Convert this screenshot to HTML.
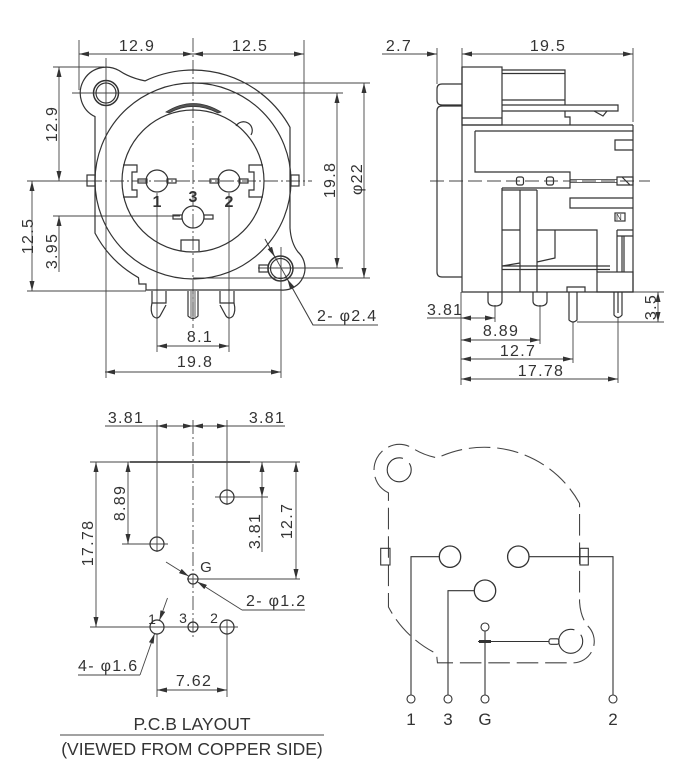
<!DOCTYPE html>
<html><head><meta charset="utf-8">
<style>
html,body{margin:0;padding:0;background:#fff;}
svg{display:block;}
text{font-family:"Liberation Sans",Arial,sans-serif;fill:#333;}
.d{font-size:16px;letter-spacing:1.3px;}
.b{font-size:16px;font-weight:bold;}
</style></head><body>
<svg width="689" height="778" viewBox="0 0 689 778" xmlns="http://www.w3.org/2000/svg">
<defs>
<marker id="a" viewBox="0 0 10 5" refX="10" refY="2.5" markerWidth="10" markerHeight="5" markerUnits="userSpaceOnUse" orient="auto-start-reverse"><path d="M0,0 L10,2.5 L0,5 z" fill="#333"/></marker>
</defs>

<!-- ================= FRONT VIEW ================= -->
<g stroke="#444" stroke-width="0.9" fill="none">
  <path d="M79,40 V90 M304,40 V186 M106,58 V378 M281,247 V378"/>
  <path d="M53,67 H104 M72,93 H343 M193,83 H370 M53,216 H180 M27,291 H146 M258,268 H343 M193,278 H370 M27,181 H88"/>
  <path d="M157,193 V352 M229,193 V352"/>
  <path d="M193,38 V328" stroke-dasharray="14 3 2 3"/>
  <path d="M88,181 H312" stroke-dasharray="14 3 2 3"/>
  <path d="M79,54 H193" marker-start="url(#a)" marker-end="url(#a)"/>
  <path d="M193,54 H304" marker-start="url(#a)" marker-end="url(#a)"/>
  <path d="M59,67 V181" marker-start="url(#a)" marker-end="url(#a)"/>
  <path d="M59,272 V216" marker-end="url(#a)"/>
  <path d="M32,181 V291" marker-start="url(#a)" marker-end="url(#a)"/>
  <path d="M337,93 V268" marker-start="url(#a)" marker-end="url(#a)"/>
  <path d="M364,83 V278" marker-start="url(#a)" marker-end="url(#a)"/>
  <path d="M157,346 H229" marker-start="url(#a)" marker-end="url(#a)"/>
  <path d="M105,372 H281" marker-start="url(#a)" marker-end="url(#a)"/>
  <path d="M265,239 L313,325 H378"/>
  <path d="M265,239 L274.6,256.7" marker-end="url(#a)"/>
  <path d="M313,325 L287.4,279.3" marker-end="url(#a)"/>
</g>
<g stroke="#333" stroke-width="1.2" fill="none">
  <path d="M95,116.6 A26,26 0 1 1 119,70.5 Q130,78 145,80.9 A111,111 0 0 1 290,127.3 L290,228 Q291,243 298,252 A22,22 0 0 1 281,290 L146,290 L146,284 L139,284 L138.5,277.7 A111,111 0 0 1 95,233.1 Z"/>
  <circle cx="106" cy="93" r="12.5" stroke-width="1.5"/>
  <circle cx="106" cy="93" r="10"/>
  <circle cx="280.5" cy="268.5" r="12.5" stroke-width="1.5"/>
  <circle cx="280.5" cy="268.5" r="10"/>
  <rect x="259" y="265" width="9" height="7"/>
  <circle cx="193" cy="181" r="98"/>
  <circle cx="193" cy="181" r="71"/>
  <path d="M123,165 H137 V172 H132 V190 H137 V197 H123"/>
  <path d="M263,165 H249 V172 H254 V190 H249 V197 H263"/>
  <path d="M236,126 A8,8 0 0 1 251,135"/>
  <path d="M181,251 V240 H199 V251"/>
  <rect x="87" y="175" width="8" height="11"/>
  <rect x="291" y="175" width="8" height="11"/>
  <circle cx="157" cy="181" r="11"/>
  <circle cx="229" cy="181" r="11"/>
  <circle cx="193" cy="217" r="11"/>
  <rect x="138" y="179" width="9" height="4"/>
  <rect x="167" y="179" width="9" height="4"/>
  <rect x="210" y="179" width="9" height="4"/>
  <rect x="239" y="179" width="9" height="4"/>
  <rect x="173" y="215" width="9" height="4"/>
  <rect x="204" y="215" width="9" height="4"/>
  <path d="M152,291 V303 H166 V291"/>
  <path d="M152,303 Q150,311 153,316 Q157,320 160,316 L166,305"/>
  <path d="M234,291 V303 H220 V291"/>
  <path d="M234,303 Q236,311 233,316 Q229,320 226,316 L220,305"/>
  <path d="M188,291 V316 Q193,321 198,316 V291"/>
  <path d="M191,291 V317 M193,291 V318 M195,291 V317" stroke-width="0.8"/>
</g>
<path d="M166,112 Q193,95 221,112 L218,113 Q193,100 169,113 Z" fill="#555" stroke="#333" stroke-width="0.8"/>
<text class="b" x="157" y="207" text-anchor="middle">1</text>
<text class="b" x="229" y="207" text-anchor="middle">2</text>
<text class="b" x="193" y="202" text-anchor="middle">3</text>
<text class="d" x="137" y="51" text-anchor="middle">12.9</text>
<text class="d" x="250" y="51" text-anchor="middle">12.5</text>
<text class="d" transform="translate(57,124) rotate(-90)" text-anchor="middle">12.9</text>
<text class="d" transform="translate(33,236) rotate(-90)" text-anchor="middle">12.5</text>
<text class="d" transform="translate(57,251) rotate(-90)" text-anchor="middle">3.95</text>
<text class="d" transform="translate(335,180) rotate(-90)" text-anchor="middle">19.8</text>
<text class="d" transform="translate(362,179) rotate(-90)" text-anchor="middle">φ22</text>
<text class="d" x="200" y="342" text-anchor="middle">8.1</text>
<text class="d" x="195" y="367" text-anchor="middle">19.8</text>
<text class="d" x="317" y="321">2- φ2.4</text>

<!-- ================= SIDE VIEW ================= -->
<g stroke="#444" stroke-width="0.9" fill="none">
  <path d="M437,48 V84 M462,48 V67 M633,48 V122"/>
  <path d="M382,54 H437" marker-end="url(#a)"/>
  <path d="M462,54 H633" marker-start="url(#a)" marker-end="url(#a)"/>
  <path d="M430,181 H650" stroke-dasharray="14 5"/>
  <path d="M461,292 V385 M495,305 V322 M540,305 V344 M573,322 V363 M618,318 V383"/>
  <path d="M633,292 H664 M577,322 H664"/>
  <path d="M427,318 H461"/>
  <path d="M461,318 H495" marker-start="url(#a)" marker-end="url(#a)"/>
  <path d="M461,340 H540" marker-start="url(#a)" marker-end="url(#a)"/>
  <path d="M461,359 H573" marker-start="url(#a)" marker-end="url(#a)"/>
  <path d="M461,379 H618" marker-start="url(#a)" marker-end="url(#a)"/>
  <path d="M658,292 V322" marker-start="url(#a)" marker-end="url(#a)"/>
</g>
<g stroke="#333" stroke-width="1.2" fill="none">
  <path d="M462,84 H442 Q437,84 437,89 V100 Q437,105 442,105 H462"/>
  <path d="M462,106 H442 Q437,106 437,111 V272 Q437,277 442,277 H462"/>
  <path d="M462,67 V292 H633 V125"/>
  <rect x="462" y="67" width="40" height="58"/>
  <path d="M462,118 H502"/>
  <path d="M502,70 H565 V105 M502,73.5 H565 M502,100 H565"/>
  <path d="M502,105 H618 V111 H502"/>
  <path d="M594,111 L603,116 L607,111"/>
  <path d="M565,111 V117 H570 V125"/>
  <path d="M462,125 H633"/>
  <path d="M475,131 H633"/>
  <path d="M475,131 V172 H570 V188 H502"/>
  <path d="M633,140 H615 V150 H633"/>
  <rect x="516.5" y="177" width="7" height="8" rx="2"/>
  <rect x="546.5" y="177" width="7" height="8" rx="2"/>
  <path d="M570,179.5 H617 M570,182.5 H617" stroke-width="0.8"/>
  <path d="M617,177 H633 V185 H617 Z M622,177 L630,185"/>
  <path d="M633,198 H570 V208 H633"/>
  <rect x="615" y="213" width="10" height="8"/>
  <path d="M502,188 V292 M520,190 V292 M537,190 V292 M502,190 H537"/>
  <path d="M502,230 H520 M537,230 H597 V272 M555,230 V258 L537,262"/>
  <path d="M502,266 L520,263 M502,266 H610 M502,269.5 H610"/>
  <rect x="597" y="272" width="36" height="20"/>
  <path d="M617,230 V272 M622,236 V272 M624,236 V272 M617,230 H633 M617,236 H633"/>
  <path d="M488,292 V301 Q488,306 495,306 Q502,306 502,301 V292"/>
  <path d="M533,292 V301 Q533,306 540,306 Q547,306 547,301 V292"/>
  <path d="M567,292 V287 H585 V292"/>
  <path d="M569,292 V320 Q573,324 577,320 V292"/>
  <path d="M614,292 V315 Q618,320 622,315 V292 M618,292 V313" />
</g>
<text x="616" y="220" style="font-size:8px">N</text>
<text class="d" x="399" y="51" text-anchor="middle">2.7</text>
<text class="d" x="548" y="51" text-anchor="middle">19.5</text>
<text class="d" x="427" y="315">3.81</text>
<text class="d" x="501" y="336" text-anchor="middle">8.89</text>
<text class="d" x="518" y="356" text-anchor="middle">12.7</text>
<text class="d" x="541" y="376" text-anchor="middle">17.78</text>
<text class="d" transform="translate(656,307) rotate(-90)" text-anchor="middle">3.5</text>

<!-- ================= PCB LAYOUT ================= -->
<g stroke="#444" stroke-width="0.9" fill="none">
  <path d="M105,426 H157 M227,426 H285"/>
  <path d="M157,426 H193" marker-start="url(#a)" marker-end="url(#a)"/>
  <path d="M193,426 H227" marker-start="url(#a)" marker-end="url(#a)"/>
  <path d="M157,420 V552 M227,420 V505"/>
  <path d="M193,420 V640" stroke-dasharray="14 3 2 3"/>
  <path d="M90,462 H300"/>
  <path d="M130,462 H250" stroke-width="1.8"/>
  <path d="M215,497 H268 M122,544 H168 M187,579 H300 M90,627 H238"/>
  <path d="M157,634 V697 M227,620 V697"/>
  <path d="M96,462 V627" marker-start="url(#a)" marker-end="url(#a)"/>
  <path d="M128,462 V544" marker-start="url(#a)" marker-end="url(#a)"/>
  <path d="M262,462 V497" marker-start="url(#a)" marker-end="url(#a)"/>
  <path d="M262,497 V552"/>
  <path d="M296,462 V579" marker-start="url(#a)" marker-end="url(#a)"/>
  <path d="M157,690 H227" marker-start="url(#a)" marker-end="url(#a)"/>
  <path d="M166,562 L188.8,576.3" marker-end="url(#a)"/>
  <path d="M242,610 L197.2,581.7" marker-end="url(#a)"/>
  <path d="M242,610 H305"/>
  <path d="M167.5,598 L159.4,620.4" marker-end="url(#a)"/>
  <path d="M140,675 L154.6,633.6" marker-end="url(#a)"/>
  <path d="M78,675 H140"/>
  <path d="M60,735 H324"/>
</g>
<g stroke="#333" stroke-width="1.2" fill="none">
  <circle cx="227" cy="497" r="7"/>
  <circle cx="157" cy="544" r="7"/>
  <circle cx="193" cy="579" r="5"/>
  <circle cx="157" cy="627" r="7"/>
  <circle cx="193" cy="627" r="5"/>
  <circle cx="227" cy="627" r="7"/>
</g>
<text class="d" x="126" y="423" text-anchor="middle">3.81</text>
<text class="d" x="267" y="423" text-anchor="middle">3.81</text>
<text class="d" transform="translate(93,543) rotate(-90)" text-anchor="middle">17.78</text>
<text class="d" transform="translate(125,503) rotate(-90)" text-anchor="middle">8.89</text>
<text class="d" transform="translate(260,531) rotate(-90)" text-anchor="middle">3.81</text>
<text class="d" transform="translate(292,521) rotate(-90)" text-anchor="middle">12.7</text>
<text x="206" y="572" text-anchor="middle" style="font-size:15px">G</text>
<text x="152" y="624" text-anchor="middle" style="font-size:14px">1</text>
<text x="183" y="623" text-anchor="middle" style="font-size:14px">3</text>
<text x="214" y="623" text-anchor="middle" style="font-size:14px">2</text>
<text class="d" x="246" y="606">2- φ1.2</text>
<text class="d" x="78" y="671">4- φ1.6</text>
<text class="d" x="194" y="686" text-anchor="middle">7.62</text>
<text x="192" y="730" text-anchor="middle" style="font-size:17.5px">P.C.B LAYOUT</text>
<text x="192" y="755" text-anchor="middle" style="font-size:17.5px">(VIEWED FROM COPPER SIDE)</text>

<!-- ================= SCHEMATIC ================= -->
<g transform="translate(484.5,556) scale(0.98) translate(-193,-181)" stroke="#444" stroke-width="1.1" fill="none">
  <path d="M95,116.6 A26,26 0 1 1 119,70.5 Q130,78 145,80.9 A111,111 0 0 1 290,127.3 L290,228 Q291,243 298,252 A22,22 0 0 1 281,290 L145,290 L144,280.6 A111,111 0 0 1 95,233.1 Z" stroke-dasharray="22 7"/>
</g>
<g stroke="#333" stroke-width="1.1" fill="none">
  <circle cx="399.2" cy="469.8" r="12" stroke-dasharray="60 8"/>
  <circle cx="570.7" cy="641.3" r="12" stroke-dasharray="60 8"/>
  <rect x="380.7" y="548.3" width="9.3" height="16.7"/>
  <rect x="580" y="548.3" width="8.3" height="16.7"/>
  <circle cx="450" cy="556.7" r="10.7" stroke-width="1.3"/>
  <circle cx="518.3" cy="556.7" r="10.7" stroke-width="1.3"/>
  <circle cx="485" cy="590.7" r="10.7" stroke-width="1.3"/>
  <circle cx="485" cy="627" r="4"/>
  <path d="M439.3,556.7 H411 V695"/>
  <path d="M529,556.7 H613 V695"/>
  <path d="M474.3,590.7 H448 V695"/>
  <path d="M485,631 V695"/>
  <path d="M478,641.5 H549"/>
  <path d="M479,641.5 H491" stroke-width="3"/>
  <rect x="549" y="638.8" width="10" height="5.5" rx="2"/>
  <circle cx="411" cy="699" r="4"/>
  <circle cx="448" cy="699" r="4"/>
  <circle cx="485" cy="699" r="4"/>
  <circle cx="613" cy="699" r="4"/>
</g>
<text x="411" y="725" text-anchor="middle" style="font-size:17px">1</text>
<text x="448" y="725" text-anchor="middle" style="font-size:17px">3</text>
<text x="485" y="725" text-anchor="middle" style="font-size:17px">G</text>
<text x="613" y="725" text-anchor="middle" style="font-size:17px">2</text>
</svg>
</body></html>
